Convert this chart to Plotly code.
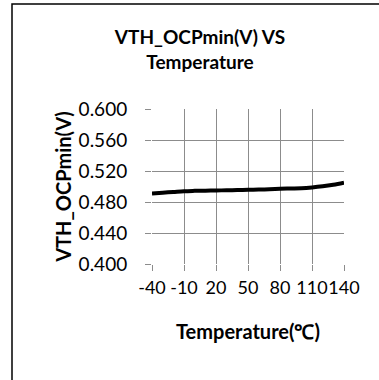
import plotly.graph_objects as go

temps = [-40, -30, -20, -10, 0, 10, 20, 30, 40, 50, 60, 70, 80, 90, 100, 110, 120, 130, 140]
vth = [0.491, 0.492, 0.493, 0.494, 0.4944, 0.4946, 0.4949, 0.4951, 0.4954, 0.4957,
       0.496, 0.4965, 0.4971, 0.4974, 0.4977, 0.4987, 0.5002, 0.5023, 0.505]
x_ticks = [-40, -10, 20, 50, 80, 110, 140]
y_ticks = [0.400, 0.440, 0.480, 0.520, 0.560, 0.600]

font_family = "Lato, Open Sans, sans-serif"
grid = "#8c8c8c"

W, H = 379, 380
L, R, T, B = 152, 35, 109, 116
PW, PH = W - L - R, H - T - B

fig = go.Figure()
fig.add_trace(go.Scatter(x=temps, y=vth, mode="lines",
                         line=dict(color="black", width=4, shape="spline"),
                         showlegend=False, hoverinfo="skip"))

fig.update_layout(
    width=W, height=H,
    margin=dict(l=L, r=R, t=T, b=B),
    paper_bgcolor="white", plot_bgcolor="white",
    title=dict(text="<b>VTH_OCPmin(V) VS<br>Temperature</b>",
               x=200/W, xanchor="center", y=1-44/H, yanchor="top",
               font=dict(family=font_family, size=19, color="black")),
    font=dict(family=font_family, color="black"),
)
fig.update_xaxes(range=[-40, 140], tickmode="array", tickvals=x_ticks,
                 ticktext=[str(v) for v in x_ticks], tickangle=0,
                 showgrid=True, gridcolor=grid, gridwidth=1,
                 ticks="outside", ticklen=6, tickcolor=grid,
                 showline=False, zeroline=False, ticklabelstandoff=1,
                 tickfont=dict(size=18, family=font_family),
                 title=dict(text="<b>Temperature(℃)</b>", standoff=28,
                            font=dict(size=20, family=font_family)))
fig.update_yaxes(range=[0.4, 0.6], tickmode="array", tickvals=y_ticks,
                 ticktext=[f"{v:.3f}" for v in y_ticks],
                 showgrid=True, gridcolor=grid, gridwidth=1,
                 ticks="outside", ticklen=6, tickcolor=grid,
                 showline=False, zeroline=False, ticklabelstandoff=14,
                 tickfont=dict(size=19, family=font_family),
                 title=dict(text="<b>VTH_OCPmin(V)</b>", standoff=1,
                            font=dict(size=20, family=font_family)))

# outer chart border
fig.add_shape(type="rect", xref="paper", yref="paper",
              x0=(12 - L) / PW, x1=(W + 10 - L) / PW,
              y0=-(B + 10) / PH, y1=(H - 4 - B) / PH,
              line=dict(color="black", width=1.5), fillcolor="rgba(0,0,0,0)",
              layer="below")

fig.write_html("out.html", config={"displayModeBar": False},
               post_script="document.body.style.margin='0';document.body.style.overflow='hidden';")
